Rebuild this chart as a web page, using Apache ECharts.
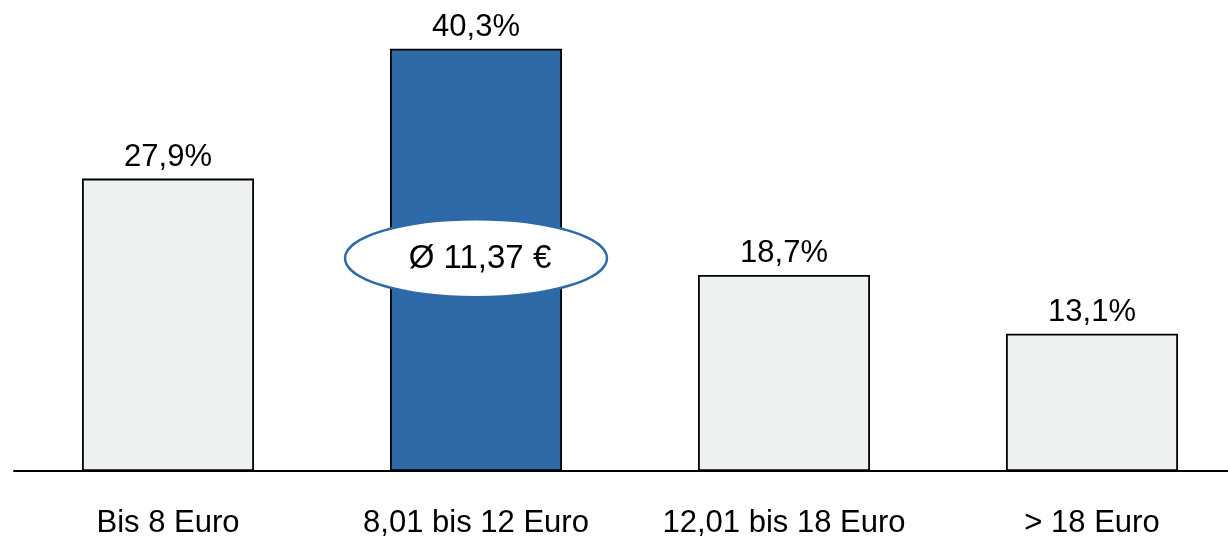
<!DOCTYPE html>
<html><head><meta charset="utf-8">
<script src="https://cdn.jsdelivr.net/npm/echarts@6/dist/echarts.min.js"></script>
<style>html,body{margin:0;padding:0;background:#fff;overflow:hidden}#c{width:1246px;height:539px}</style>
</head><body><div id="c"></div>
<script>
const categories = ['Bis 8 Euro', '8,01 bis 12 Euro', '12,01 bis 18 Euro', '> 18 Euro'];
const shares = [27.9, 40.3, 18.7, 13.1];
const highlightIndex = 1;
const averageLabel = 'Ø 11,37 €';
const averageCategory = 1;
const averageLevel = 20.3;

const FONT = '"Liberation Sans", Arial, sans-serif';
const chart = echarts.init(document.getElementById('c'), null, {renderer: 'canvas'});
chart.setOption({
  animation: false,
  grid: {left: 14, right: 0, top: 0, bottom: 63, containLabel: false},
  xAxis: {
    type: 'category', data: categories,
    axisLine: {lineStyle: {color: '#000', width: 2}},
    axisTick: {show: false},
    axisLabel: {color: '#000', fontSize: 31, fontFamily: FONT, margin: 37, interval: 0}
  },
  yAxis: {type: 'value', min: 0, max: 44.94, show: false, splitLine: {show: false}},
  series: [{
    type: 'bar',
    barWidth: 172,
    data: shares.map((v, i) => ({
      value: v,
      itemStyle: {color: i === highlightIndex ? '#2e6aa7' : '#eef1f2'}
    })),
    itemStyle: {borderColor: '#000', borderWidth: 1.8},
    label: {
      show: true, position: 'top', distance: 6,
      color: '#000', fontSize: 31, fontFamily: FONT,
      formatter: p => p.value.toFixed(1).replace('.', ',') + '%'
    }
  }]
});
const c = chart.convertToPixel({xAxisIndex: 0, yAxisIndex: 0}, [averageCategory, averageLevel]);
chart.setOption({
  graphic: [{
    type: 'ellipse', shape: {cx: c[0], cy: c[1], rx: 131, ry: 39},
    style: {fill: '#fff', stroke: '#2e6aa7', lineWidth: 2.5}, z: 100
  }, {
    type: 'text', x: c[0] + 4, y: c[1] + 1, z: 101,
    style: {text: averageLabel, fill: '#000', font: '33px ' + FONT, align: 'center', verticalAlign: 'middle'}
  }]
});
</script></body></html>
